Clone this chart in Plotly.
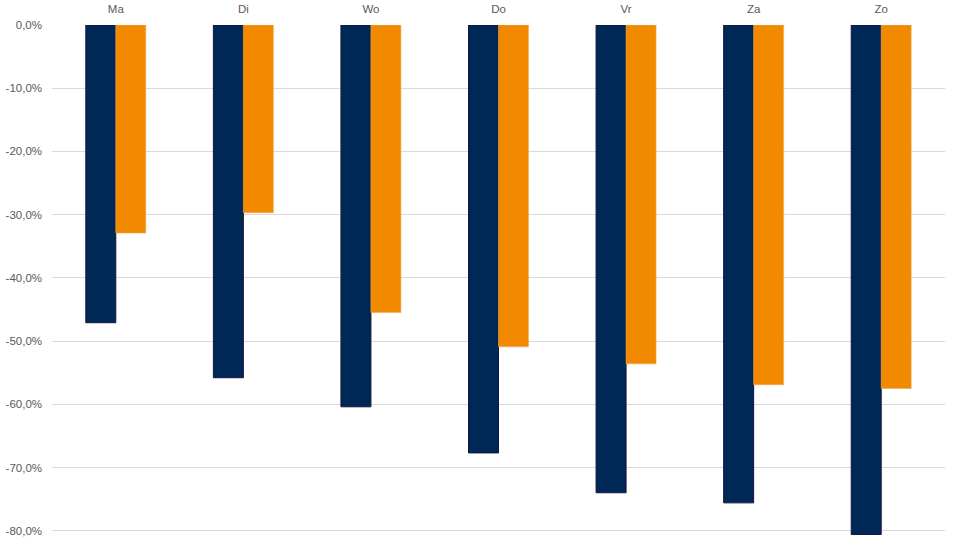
import plotly.graph_objects as go

categories = ["Ma", "Di", "Wo", "Do", "Vr", "Za", "Zo"]
series_navy = [-0.471, -0.558, -0.604, -0.677, -0.740, -0.756, -0.806]
series_orange = [-0.329, -0.297, -0.455, -0.509, -0.536, -0.569, -0.575]
tick_vals = [0, -0.1, -0.2, -0.3, -0.4, -0.5, -0.6, -0.7, -0.8]
tick_text = ["0,0%", "-10,0%", "-20,0%", "-30,0%", "-40,0%", "-50,0%", "-60,0%", "-70,0%", "-80,0%"]

fig = go.Figure()
fig.add_trace(go.Bar(x=categories, y=series_navy, name="A",
                     marker=dict(color="#002856", line=dict(color="#14143c", width=1))))
fig.add_trace(go.Bar(x=categories, y=series_orange, name="B",
                     marker=dict(color="#F28A00", line=dict(color="#F5A550", width=0.6))))

fig.update_layout(
    width=960, height=539,
    margin=dict(l=52, r=15, t=25, b=2),
    paper_bgcolor="white", plot_bgcolor="white",
    barmode="group", bargap=0.53, bargroupgap=0,
    showlegend=False,
    font=dict(family="Liberation Sans, Arial, sans-serif", size=11.5, color="#595959"),
    xaxis=dict(side="top", showgrid=False, showline=False, ticks="", ticklabelstandoff=9,
               automargin=False, tickfont=dict(size=11.5, color="#595959")),
    yaxis=dict(range=[-0.81, 0], tickvals=tick_vals, ticktext=tick_text,
               showgrid=True, gridcolor="#d9d9d9", gridwidth=1, zeroline=False,
               showline=False, ticks="", ticklabelstandoff=9, automargin=False,
               tickfont=dict(size=11.5, color="#595959")),
)
fig.write_html("out.html", config={"displayModeBar": False},
               post_script="document.body.style.margin='0';")
